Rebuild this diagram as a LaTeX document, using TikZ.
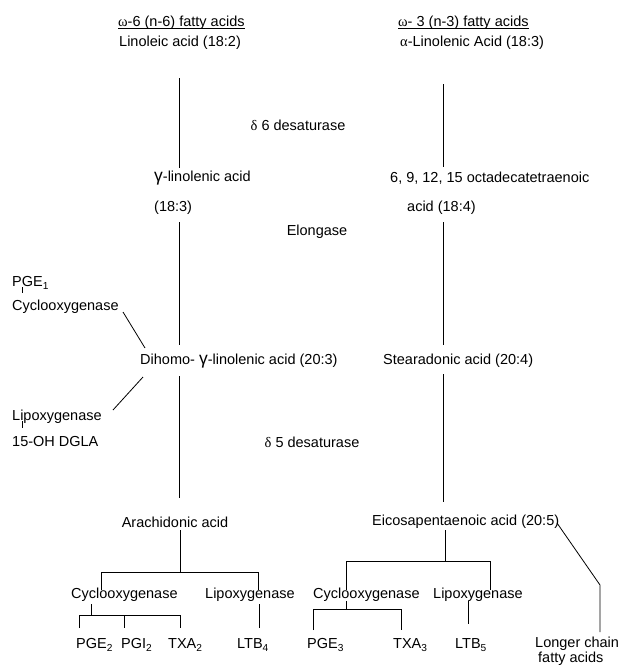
\documentclass[tikz,border=0pt]{standalone}
\usepackage{fontspec}
\setmainfont{Liberation Sans}
\newfontfamily\grk{Liberation Serif}
\newcommand{\gam}{{\fontsize{17.5}{17.5}\selectfont γ}}
\begin{document}
\begin{tikzpicture}[x=1pt,y=-1pt,
  txt/.style={inner sep=0pt, font=\fontsize{14.5}{17}\selectfont},
  ln/.style={line width=0.8pt}]
\useasboundingbox (0,0) rectangle (620,667);
\fill[white] (0,0) rectangle (620,667);
% headers
\node[txt,anchor=base west] (h6) at (118,26.5) {{\grk ω}-6 (n-6) fatty acids};
\node[txt,anchor=base west] (h3) at (398,26.5) {{\grk ω}- 3 (n-3) fatty acids};
\draw[line width=0.7pt] ([yshift=-1.8pt]h6.base west) -- ([yshift=-1.8pt]h6.base east);
\draw[line width=0.7pt] ([yshift=-1.8pt]h3.base west) -- ([yshift=-1.8pt]h3.base east);
\node[txt,anchor=west] (lin) at (119,43) {Linoleic acid (18:2)};
\node[txt,anchor=west] (ala) at (400,43) {{\grk α}-Linolenic Acid (18:3)};
\node[txt] (d6) at (298,125) {{\grk δ} 6 desaturase};
\node[txt,anchor=west] (gla) at (154,178) {\gam-linolenic acid};
\node[txt,anchor=west] (gla2) at (154,208) {(18:3)};
\node[txt,anchor=west] (oct) at (390,178) {6, 9, 12, 15 octadecatetraenoic};
\node[txt,anchor=west] (oct2) at (407,208) {acid (18:4)};
\node[txt] (elo) at (317,232) {Elongase};
\node[txt,anchor=west] (pge1) at (12,283) {PGE\textsubscript{1}};
\node[txt,anchor=west] (cox0) at (12,307) {Cyclooxygenase};
\node[txt,anchor=west] (dgla) at (140,361) {Dihomo- \gam-linolenic acid (20:3)};
\node[txt,anchor=west] (sda) at (383,361) {Stearadonic acid (20:4)};
\node[txt,anchor=west] (lox0) at (12,417) {Lipoxygenase};
\node[txt,anchor=west] (oh) at (12,442) {15-OH DGLA};
\node[txt] (d5) at (312,442) {{\grk δ} 5 desaturase};
\node[txt] (aa) at (175,522) {Arachidonic acid};
\node[txt,anchor=west] (epa) at (372,522) {Eicosapentaenoic acid (20:5)};
\node[txt,anchor=west] (coxA) at (71,595) {Cyclooxygenase};
\node[txt,anchor=west] (loxA) at (205,595) {Lipoxygenase};
\node[txt,anchor=west] (coxE) at (313,595) {Cyclooxygenase};
\node[txt,anchor=west] (loxE) at (433,595) {Lipoxygenase};
\node[txt,anchor=west] (pge2) at (76,645) {PGE\textsubscript{2}};
\node[txt,anchor=west] (pgi2) at (121,645) {PGI\textsubscript{2}};
\node[txt,anchor=west] (txa2) at (168,645) {TXA\textsubscript{2}};
\node[txt,anchor=west] (ltb4) at (237,645) {LTB\textsubscript{4}};
\node[txt,anchor=west] (pge3) at (307,645) {PGE\textsubscript{3}};
\node[txt,anchor=west] (txa3) at (393,645) {TXA\textsubscript{3}};
\node[txt,anchor=west] (ltb5) at (455,645) {LTB\textsubscript{5}};
\node[txt,anchor=west] (lc1) at (535,644) {Longer chain};
\node[txt,anchor=west] (lc2) at (538,659) {fatty acids};
% main vertical connectors
\coordinate (L1) at (179,78);  \coordinate (L2) at (179,168);
\coordinate (L3) at (179,222); \coordinate (L4) at (179,345);
\coordinate (L5) at (179,376); \coordinate (L6) at (179,498);
\coordinate (R1) at (443,84);  \coordinate (R2) at (443,167);
\coordinate (R3) at (443,222); \coordinate (R4) at (443,345);
\coordinate (R5) at (443,374); \coordinate (R6) at (443,502);
\draw[ln] (L1) -- (L2); \draw[ln] (L3) -- (L4); \draw[ln] (L5) -- (L6);
\draw[ln] (R1) -- (R2); \draw[ln] (R3) -- (R4); \draw[ln] (R5) -- (R6);
% side branches of DGLA
\draw[ln] (22.7,287) -- (22.7,293);
\coordinate (d1) at (123,312); \coordinate (d2) at (145,348);
\draw[ln] (d1) -- (d2);
\coordinate (d3) at (143,377); \coordinate (d4) at (113,410);
\draw[ln] (d3) -- (d4);
\draw[ln] (22.7,421) -- (22.7,428);
% arachidonic tree
\coordinate (a0) at (180,530); \coordinate (a1) at (180,572);
\coordinate (a2) at (101,572); \coordinate (a3) at (258,572);
\draw[ln] (a0) -- (a1);
\draw[ln] (101,590) -- (a2) -- (a3) -- (258,590);
\draw[ln] (91,604) -- (91,615);
\draw[ln] (79,628) -- (79,615) -- (180,615) -- (180,628);
\draw[ln] (124,615) -- (124,628);
\draw[ln] (259,604) -- (259,628);
% EPA tree
\draw[ln] (445,530) -- (445,561);
\draw[ln] (346,590) -- (346,561) -- (490,561) -- (490,590);
\draw[ln] (346,601) -- (346,609);
\draw[ln] (313,630) -- (313,609) -- (401,609) -- (401,630);
\draw[ln] (468,601) -- (468,624);
% longer chain
\draw[ln] (557,523) -- (600,585) -- (600,632);
\end{tikzpicture}
\end{document}
